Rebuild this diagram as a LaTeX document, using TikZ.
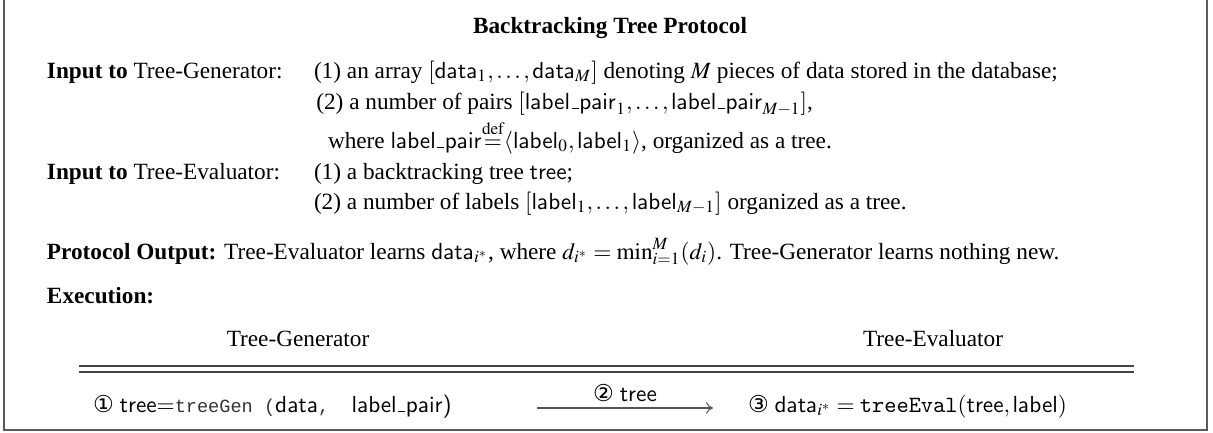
\documentclass[tikz,border=0pt]{standalone}
\usepackage{mathptmx}
\usepackage[no-math]{fontspec}
\setmainfont{Liberation Serif}
\newfontfamily\circfont{DejaVu Sans}
\newfontfamily\courierfont{Liberation Mono}
\usetikzlibrary{arrows.meta}
\definecolor{framegray}{HTML}{5A5A5A}
\definecolor{rulegray}{HTML}{444444}
\definecolor{msggray}{HTML}{555555}
\definecolor{codegray}{HTML}{333333}
% short low rule used as the underscore in identifiers
\newcommand{\us}{\mbox{\kern.06em\vbox{\hrule width .3em height .4pt}\kern.03em}}
\newcommand{\lp}{\mathsf{label}\us\mathsf{pair}}
\newcommand{\defeq}{{\stackrel{\mathrm{def}}{=}}}
\newcommand{\codefont}{\courierfont\fontsize{8}{10}\selectfont\color{codegray}}
\begin{document}
\begin{tikzpicture}[x=0.43pt, y=-0.43pt,
  every node/.style={inner sep=0pt, outer sep=0pt, font=\fontsize{10}{12}\selectfont},
  txt/.style={anchor=base west},
  ctr/.style={anchor=base},
  frameline/.style={draw=framegray, line width=0.9pt},
  ruleline/.style={draw=rulegray, line width=0.45pt},
  msgarrow/.style={draw=msggray, line width=0.45pt, -{Computer Modern Rightarrow[length=3pt,width=5pt]}}]
\useasboundingbox (0,0) rectangle (1213,433);

% open frame around the protocol
\draw[frameline] (4,0) -- (4,430) -- (1207,430) -- (1207,0);

% heading
\node[ctr, font=\fontsize{10}{12}\selectfont\bfseries] (title) at (610,34) {Backtracking Tree Protocol};

% inputs
\node[txt] (in1) at (47,78) {\textbf{Input to} Tree-Generator:};
\coordinate (col) at (314,78);
\coordinate (colw) at (328,78);
\node[txt] (r1) at (col |- 0,78) {(1) an array $[\mathsf{data}_1,\ldots,\mathsf{data}_M]$ denoting $M$ pieces of data stored in the database;};
\node[txt] (r2) at ([xshift=1pt]col |- 0,109) {(2) a number of pairs $[\lp_1,\ldots,\lp_{M-1}]$,};
\node[txt] (r3) at (colw |- 0,148) {where $\lp\defeq\langle\mathsf{label}_0,\mathsf{label}_1\rangle$, organized as a tree.};
\node[txt] (in2) at (47,179) {\textbf{Input to} Tree-Evaluator:};
\node[txt] (r4) at (col |- 0,179) {(1) a backtracking tree $\mathsf{tree}$;};
\node[txt] (r5) at (col |- 0,209) {(2) a number of labels $[\mathsf{label}_1,\ldots,\mathsf{label}_{M-1}]$ organized as a tree.};

% output
\node[txt] (out) at (47,259) {\textbf{Protocol Output:} Tree-Evaluator learns $\mathsf{data}_{i^*}$, where $d_{i^*}=\min_{i=1}^{M}(d_i)$. Tree-Generator learns nothing new.};

% execution
\node[txt] (exe) at (47,303) {\textbf{Execution:}};
\node[ctr] (gen) at (298,346) {Tree-Generator};
\node[ctr] (eva) at (933,346) {Tree-Evaluator};

\draw[ruleline] (79,366) -- (1134,366);
\draw[ruleline] (79,372) -- (1134,372);

\node[txt] (s1) at (93,412) {{\circfont ①} \textsf{tree=}{\codefont treeGen (}\textsf{data}{\codefont ,\ \ }\textsf{label}\us\textsf{pair)}};
\node[txt] (s3) at (748,412) {{\circfont ③} $\mathsf{data}_{i^*}=\mathtt{treeEval}(\mathsf{tree},\mathsf{label})$};

\coordinate (msgstart) at (537,408);
\coordinate (msgend) at (713,408);
\draw[msgarrow] (msgstart) -- node[above=2.5pt] (msg) {{\circfont ②} \textsf{tree}} (msgend);
\end{tikzpicture}
\end{document}
